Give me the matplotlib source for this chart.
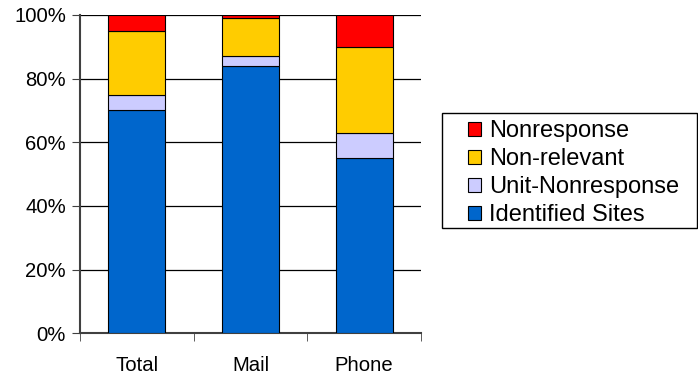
import matplotlib
matplotlib.use("Agg")
import matplotlib.pyplot as plt
from matplotlib.patches import Rectangle
import numpy as np

categories = ["Total", "Mail", "Phone"]
identified = [70, 84, 55]
unit_nonresponse = [5, 3, 8]
non_relevant = [20, 12, 27]
nonresponse = [5, 1, 10]

plt.rcParams["font.family"] = ["Liberation Sans", "DejaVu Sans"]

W, H = 698, 378
fig = plt.figure(figsize=(W / 100, H / 100), dpi=100)
ax = fig.add_axes([80 / W, 1 - 333.3 / H, 341 / W, 318.3 / H])

x = np.arange(len(categories))
series = [
    ("Identified Sites", identified, "#0066CC"),
    ("Unit-Nonresponse", unit_nonresponse, "#CCCCFF"),
    ("Non-relevant", non_relevant, "#FFCC00"),
    ("Nonresponse", nonresponse, "#FF0000"),
]
bottom = np.zeros(len(categories))
handles = []
for name, vals, color in series:
    b = ax.bar(x, vals, width=0.5, bottom=bottom, color=color,
               edgecolor="black", linewidth=0.8, label=name, zorder=3)
    handles.append(b)
    bottom += np.array(vals)

ax.set_xlim(-0.5, 2.5)
ax.set_ylim(0, 100)
ax.set_yticks(np.arange(0, 101, 20))
ax.set_yticklabels([f"{v}%" for v in range(0, 101, 20)], fontsize=14.6)
ax.set_xticks(x)
ax.set_xticklabels(categories, fontsize=14.6)
ax.tick_params(axis="x", length=0, pad=16)
ax.set_xticks([-0.5, 0.5, 1.5, 2.5], minor=True)
ax.tick_params(axis="x", which="minor", length=6, color="#404040")
ax.tick_params(axis="y", length=6, color="#404040", pad=4)
ax.yaxis.grid(True, color="black", linewidth=0.9, zorder=0)
ax.set_axisbelow(True)
for s in ["top", "right"]:
    ax.spines[s].set_visible(False)
for s in ["left", "bottom"]:
    ax.spines[s].set_color("#404040")
    ax.spines[s].set_linewidth(1.5)

# legend frame drawn separately so the entries can sit with a wide left margin
fig.patches.append(Rectangle((441.7 / W, 1 - 228 / H), 255 / W, 115 / H,
                             transform=fig.transFigure, fill=False,
                             edgecolor="black", linewidth=1.0))
leg = fig.legend(handles[::-1], [h.get_label() for h in handles[::-1]],
                 loc="upper left", bbox_to_anchor=(468 / W, 1 - 120.5 / H),
                 fontsize=17, frameon=False,
                 handlelength=0.55, handleheight=0.55,
                 handletextpad=0.35, labelspacing=0.25, borderpad=0,
                 borderaxespad=0)

fig.savefig("out.png", dpi=100)
